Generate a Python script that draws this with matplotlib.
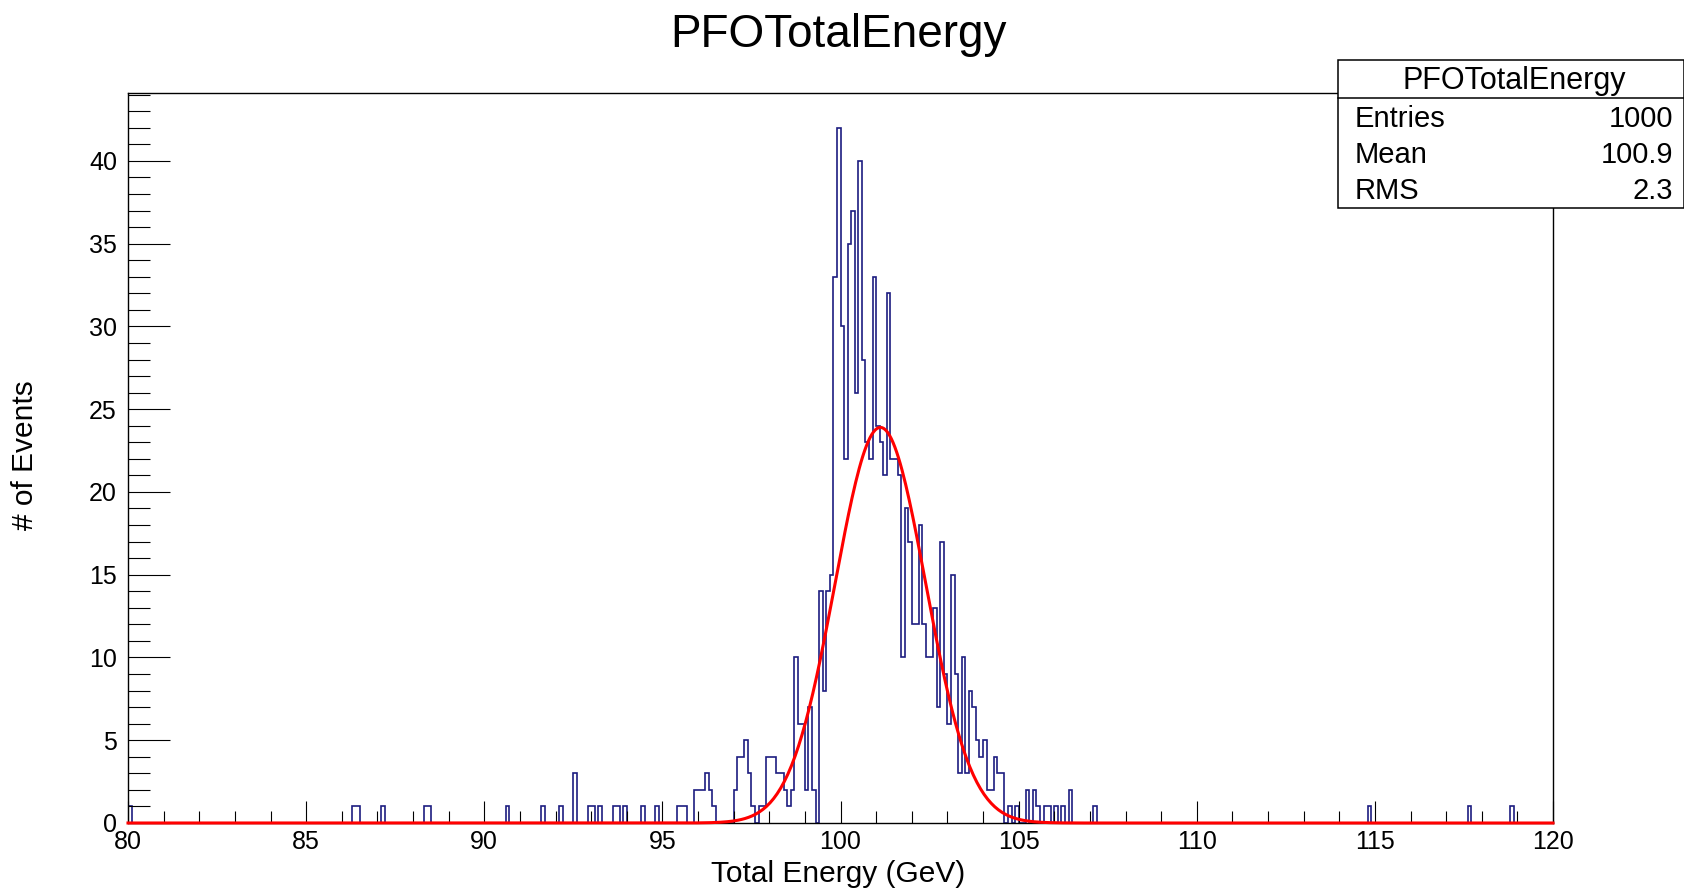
import numpy as np
import matplotlib
matplotlib.use('Agg')
import matplotlib.pyplot as plt
from matplotlib.patches import Rectangle
from matplotlib.lines import Line2D
from matplotlib.ticker import MultipleLocator

# histogram: 400 bins of 0.1 GeV between 80 and 120, only non-empty bins listed
x_min, x_max, n_bins = 80.0, 120.0, 400

bin_start = [
    80.0, 86.3, 86.4, 87.1, 88.3, 88.4, 90.6, 91.6, 92.1, 92.5,
    92.9, 93.0, 93.2, 93.6, 93.7, 93.9, 94.4, 94.8, 95.4, 95.5, 95.6,
    95.9, 96.0, 96.1, 96.2, 96.3, 96.4,
    97.0, 97.1, 97.2, 97.3, 97.4, 97.5, 97.7, 97.8,
    97.9, 98.0, 98.1, 98.2, 98.3, 98.4, 98.5, 98.6,
    98.7, 98.8, 98.9, 99.0, 99.1, 99.2,
    99.4, 99.5, 99.6, 99.7, 99.8, 99.9,
    100.0, 100.1, 100.2, 100.3, 100.4, 100.5, 100.6, 100.7, 100.8, 100.9,
    101.0, 101.1, 101.2, 101.3, 101.4, 101.5, 101.6, 101.7, 101.8, 101.9,
    102.0, 102.1, 102.2, 102.3, 102.4, 102.5, 102.6, 102.7, 102.8, 102.9,
    103.0, 103.1, 103.2, 103.3, 103.4, 103.5, 103.6, 103.7, 103.8, 103.9,
    104.0, 104.1, 104.2, 104.3, 104.4, 104.5,
    104.7, 104.9, 105.2, 105.4, 105.5, 105.7, 105.8, 106.0, 106.2, 106.4,
    107.1, 114.8, 117.6, 118.8,
]
bin_count = [
    1, 1, 1, 1, 1, 1, 1, 1, 1, 3,
    1, 1, 1, 1, 1, 1, 1, 1, 1, 1, 1,
    2, 2, 2, 3, 2, 1,
    2, 4, 4, 5, 3, 1, 1, 1,
    4, 4, 4, 3, 3, 2, 1, 2,
    10, 6, 6, 2, 7, 2,
    14, 8, 14, 15, 33, 42,
    30, 22, 35, 37, 26, 40, 28, 23, 22, 33,
    24, 23, 21, 32, 22, 22, 21, 10, 19, 17,
    12, 12, 18, 12, 10, 10, 13, 7, 17, 9,
    6, 15, 9, 3, 10, 3, 8, 7, 5, 4,
    5, 2, 2, 4, 3, 3,
    1, 1, 2, 2, 1, 1, 1, 1, 1, 2,
    1, 1, 1, 1,
]

# gaussian fit parameters
fit_const = 23.9
fit_mean = 101.12
fit_sigma = 1.27

stats_labels = ['Entries', 'Mean', 'RMS']
stats_values = ['1000', '100.9', '2.3']

W, H = 1684, 893
plt.rcParams['font.family'] = ['Liberation Sans', 'DejaVu Sans']

fig = plt.figure(figsize=(W / 100, H / 100), dpi=100)
ax = fig.add_axes([128 / W, 1 - 823 / H, (1553 - 128) / W, (823 - 93) / H])

edges = np.linspace(x_min, x_max, n_bins + 1)
counts = np.zeros(n_bins)
for s, c in zip(bin_start, bin_count):
    counts[int(round((s - x_min) * 10))] = c

ax.stairs(counts, edges, color='#1c1c80', lw=1.2, baseline=0)

xf = np.linspace(x_min, x_max, 800)
yf = fit_const * np.exp(-0.5 * ((xf - fit_mean) / fit_sigma) ** 2)
ax.plot(xf, yf, color='#ff0000', lw=2.2, zorder=3, clip_on=False)

ax.set_xlim(x_min, x_max)
ax.set_ylim(0, 44.1)
ax.xaxis.set_major_locator(MultipleLocator(5))
ax.xaxis.set_minor_locator(MultipleLocator(1))
ax.yaxis.set_major_locator(MultipleLocator(5))
ax.yaxis.set_minor_locator(MultipleLocator(1))
ax.tick_params(axis='x', which='major', direction='in', length=15.6, width=0.8,
               labelsize=18, pad=5)
ax.tick_params(axis='x', which='minor', direction='in', length=8.4, width=0.8)
ax.tick_params(axis='y', which='major', direction='in', length=30, width=0.8,
               labelsize=18, pad=8)
ax.tick_params(axis='y', which='minor', direction='in', length=16, width=0.8)
for sp in ax.spines.values():
    sp.set_linewidth(1.0)


def fx(px):
    return px / W


def fy(py):
    return 1 - py / H


fig.text(fx(839), fy(46.7), 'PFOTotalEnergy', fontsize=33, ha='center', va='baseline')
fig.text(fx(838), fy(882), 'Total Energy (GeV)', fontsize=21.5, ha='center', va='baseline')
fig.text(fx(25), fy(455), '# of Events', fontsize=21.5, ha='center', va='center', rotation=90)

# stats box
box = Rectangle((fx(1338), fy(208)), fx(1683.5) - fx(1338), fy(60) - fy(208),
                transform=fig.transFigure, facecolor='white', edgecolor='black',
                lw=1.1, zorder=10)
fig.add_artist(box)
fig.add_artist(Line2D([fx(1338), fx(1684)], [fy(97.7), fy(97.7)],
                      transform=fig.transFigure, color='black', lw=1.1, zorder=11))
fig.text(fx(1514), fy(89.3), 'PFOTotalEnergy', fontsize=22, ha='center', va='baseline', zorder=12)
for i, (lab, val) in enumerate(zip(stats_labels, stats_values)):
    yb = 127.3 + 36 * i
    fig.text(fx(1355), fy(yb), lab, fontsize=21, ha='left', va='baseline', zorder=12)
    fig.text(fx(1673), fy(yb), val, fontsize=21, ha='right', va='baseline', zorder=12)

fig.savefig('out.png', dpi=100)
